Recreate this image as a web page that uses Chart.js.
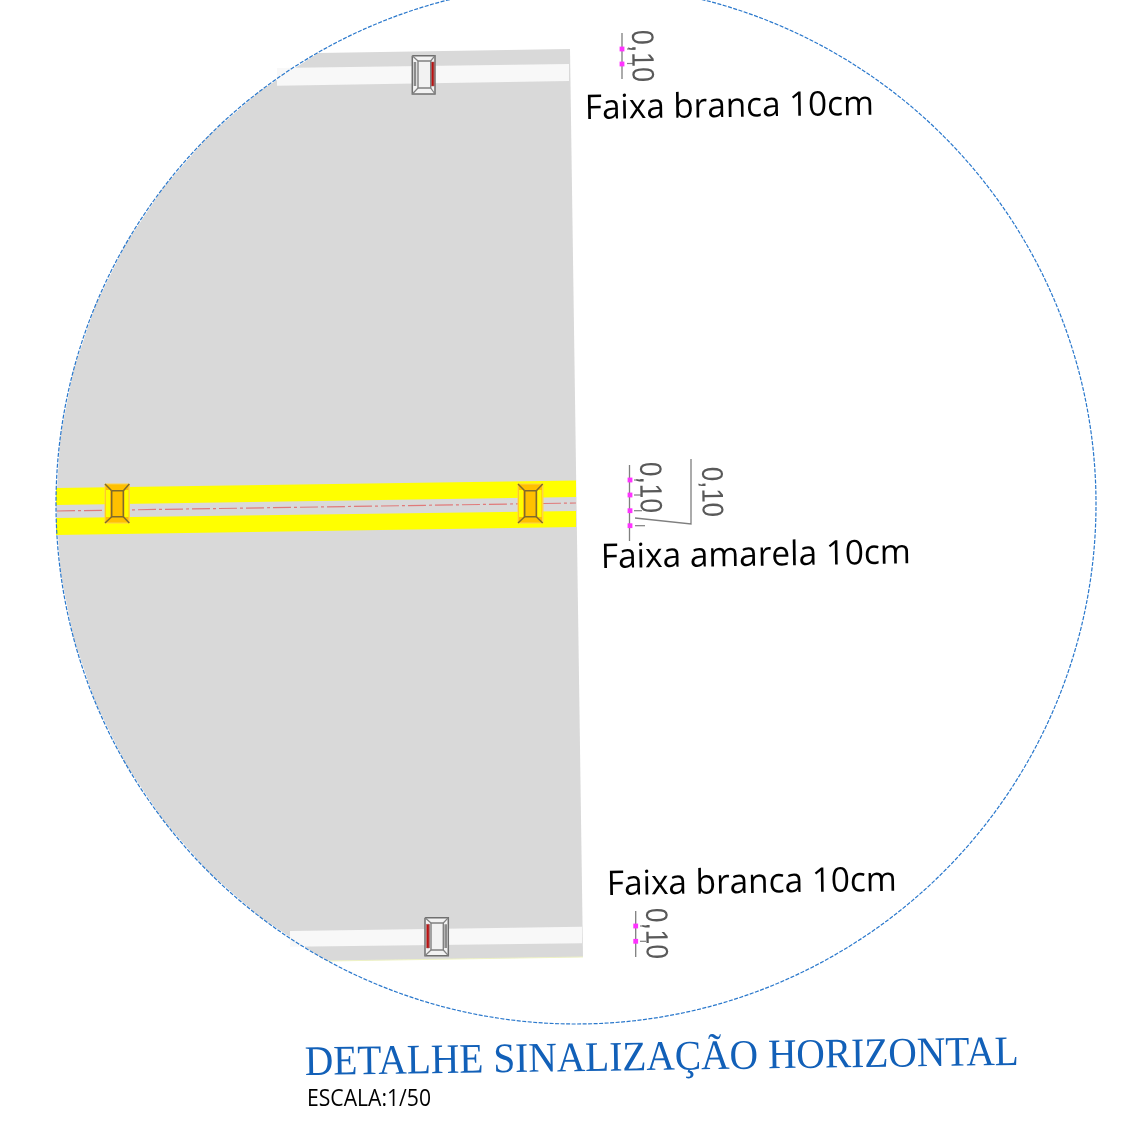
<!DOCTYPE html>
<html lang="pt-BR">
<head>
<meta charset="utf-8">
<title>Detalhe sinalização horizontal</title>
<script src="https://cdn.jsdelivr.net/npm/chart.js@4/dist/chart.umd.min.js"></script>
<style>
html,body{margin:0;padding:0;background:#fff}
canvas{display:block}
</style>
</head>
<body>
<canvas id="cDetalhe" width="1124" height="1145"></canvas>
<script>
// drawing units. y grows downwards
const circleEdge=[[576,-16],[710.6,1.7],[836,53.7],[943.7,136.3],[1026.3,244],[1078.3,369.4],[1096,504],[1078.3,638.6],[1026.3,764],[943.7,871.7],[836,954.3],[710.6,1006.3],[576,1024],[441.4,1006.3],[316,954.3],[208.3,871.7],[125.7,764],[73.7,638.6],[56,504],[73.7,369.4],[125.7,244],[208.3,136.3],[316,53.7],[441.4,1.7],[576,-16]];
const roadEdge=[[570,49],[583,957],[328,961],[316,954.3],[259.4,916.5],[208.3,871.7],[163.5,820.6],[125.7,764],[95.6,703],[73.7,638.6],[60.4,571.9],[56,504],[60.4,436.1],[73.7,369.4],[95.6,305],[125.7,244],[163.5,187.4],[208.3,136.3],[259.4,91.5],[318,53]];
const whiteTop=[[277,68],[569,64],[569,81],[277,85.7]];
const whiteBottom=[[290,931],[582,926.7],[582,943.3],[290,946.7]];
const yellowUpper=[[56,488],[576,480.5],[576,497],[56,505]];
const yellowLower=[[56,518],[576,511],[576,527],[56,535]];
const axisLine=[[57,511],[576,503]];
const roadBottomEdge=[[328,961],[583,957]];

// road studs: outer box, inner box, side bar boxes
const studAmber=[{outer:[105,484,129.3,523],inner:[111.7,490.7,123.3,516.7],left:[106,490,110,517],right:[124.5,490,128.5,517]},
  {outer:[518,484,542.7,523],inner:[524.7,490.7,536.3,516.7],left:[519,490,523,517],right:[537.5,490,541.5,517]}];
const studWhite=[{outer:[412.3,55.7,435,94],inner:[418,61,430.7,88],grey:[413.7,62,416.2,86],red:[431.2,62,434,86]},
  {outer:[425,917.7,448.3,955.7],inner:[431,923,443.3,950],grey:[444.4,924.3,447,948],red:[426.5,924.3,429.2,948]}];

// cotas
const cotaLines=[[[622,33],[622,79]],[[629.5,465],[629.5,541]],[[635.7,911],[635.7,957]],[[691,459],[691,524],[635,518]]];
const cotaTicks=[[[627,49],[635,49]],[[627,63.5],[634,63.5]],[[634,480],[642,480]],[[634,495],[642,495]],[[634,510.7],[642,510.7]],[[635,525.7],[645,525.7]],[[640,926],[646,926]],[[640,941.3],[646,941.3]]];
const pinkPoints=[[622,49],[622,64],[630,480],[630,495],[630,510.7],[630,525.7],[635.7,926],[635.7,941.3]];

const SANS='"Open Sans"',ARIAL='"Liberation Sans"',SERIF='"Liberation Serif"';
const labels=[
  {t:'Faixa branca 10cm',x:585,y:119,a:-0.85,w:289,f:`34px ${SANS}`,c:'#000'},
  {t:'Faixa amarela 10cm',x:601,y:568,a:-0.85,w:310,f:`34px ${SANS}`,c:'#000'},
  {t:'Faixa branca 10cm',x:607,y:895,a:-0.85,w:290,f:`34px ${SANS}`,c:'#000'},
  {t:'DETALHE SINALIZAÇÃO HORIZONTAL',x:305,y:1075,a:-0.82,w:714,f:`42px ${SERIF}`,c:'#1260b8'},
  {t:'ESCALA:1/50',x:307,y:1106,a:0,w:124,f:`24px ${SANS}`,c:'#000'},
  {t:'0,10',x:632,y:30,a:89.2,w:52,f:`31px ${ARIAL}`,c:'#595959'},
  {t:'0,10',x:640,y:462,a:89.2,w:51,f:`31px ${ARIAL}`,c:'#595959'},
  {t:'0,10',x:702,y:467,a:89.2,w:50,f:`30px ${ARIAL}`,c:'#595959'},
  {t:'0,10',x:646,y:908,a:89.2,w:51,f:`31px ${ARIAL}`,c:'#595959'}
];

const pts=a=>a.map(([x,y])=>({x,y}));
const box=([x0,y0,x1,y1])=>[[x0,y0],[x1,y0],[x1,y1],[x0,y1],[x0,y0]];
function area(a,color,line,w){
  return {data:pts(a),showLine:true,fill:'shape',backgroundColor:color,borderColor:line||color,borderWidth:line?(w||1):0,pointRadius:0,tension:0};
}
function stroke(a,color,w,dash){
  return {data:pts(a),showLine:true,fill:false,borderColor:color,borderWidth:w||1,borderDash:dash||[],pointRadius:0,tension:0};
}
// the bevels of one stud, from the corners of its boxes
function studBevels(s,color,w){
  const[a,b,c,d]=s.outer,[e,f,g,h]=s.inner;
  return [[[a,b],[e,f]],[[c,b],[g,f]],[[c,d],[g,h]],[[a,d],[e,h]]].map(l=>stroke(l,color,w));
}

// paint order, first one is at the back
const layers=[
  area(roadEdge,'#d9d9d9'),
  stroke(roadBottomEdge,'#eef2c4',1.2),
  area(whiteTop,'#f8f8f8'),
  area(whiteBottom,'#f8f8f8'),
  area(yellowUpper,'#ffff00'),
  area(yellowLower,'#ffff00'),
  stroke(axisLine,'#e07a7a',1.2,[18,3,3,3])
];
studAmber.forEach(s=>{
  layers.push(area(box(s.outer),'#ffc000','#ffd24a',1));
  layers.push(area(box(s.left),'#ffff00'));
  layers.push(area(box(s.right),'#ffff00'));
  layers.push(area(box(s.inner),'#ffc000','#7f6a2c',1.5));
  layers.push(...studBevels(s,'#7f6a2c',1.5));
});
studWhite.forEach(s=>{
  layers.push(area(box(s.outer),'#f2f2f2','#6f6f6f',1.5));
  layers.push(area(box(s.grey),'#8c8c8c'));
  layers.push(area(box(s.red),'#c01010','#9c5a5a',0.5));
  layers.push(area(box(s.inner),'#f2f2f2','#808080',1.4));
  layers.push(...studBevels(s,'#808080',1.2));
});
cotaLines.forEach(l=>layers.push(stroke(l,'#7f7f7f',1.3)));
cotaTicks.forEach(l=>layers.push(stroke(l,'#7f7f7f',1.2)));
layers.push({data:pts(pinkPoints),showLine:false,pointStyle:'rect',pointRadius:3.4,pointBackgroundColor:'#ff33ff',pointBorderWidth:0});
layers.push({data:pts(circleEdge),showLine:true,fill:false,borderColor:'#2a78cc',borderWidth:1.2,borderDash:[4,1.5],pointRadius:0,tension:0.338,capBezierPoints:false});

const labelPlugin={
  id:'labelPlugin',
  afterDatasetsDraw(chart){
    const{ctx,scales:{x,y}}=chart;
    labels.forEach(l=>{
      ctx.save();
      ctx.translate(x.getPixelForValue(l.x),y.getPixelForValue(l.y));
      ctx.rotate(l.a*Math.PI/180);
      ctx.font=l.f;
      ctx.fillStyle=l.c;
      ctx.textBaseline='alphabetic';
      ctx.scale(l.w/ctx.measureText(l.t).width,1);
      ctx.fillText(l.t,0,0);
      ctx.restore();
    });
  }
};

new Chart(document.getElementById('cDetalhe'),{
  type:'scatter',
  // chart.js paints the first dataset last
  data:{datasets:layers.slice().reverse()},
  options:{
    responsive:false,animation:false,
    layout:{padding:0,autoPadding:false},
    plugins:{legend:{display:false},tooltip:{enabled:false},title:{display:false}},
    scales:{
      x:{type:'linear',min:0,max:1124,display:false},
      y:{type:'linear',min:0,max:1145,reverse:true,display:false}
    }
  },
  plugins:[labelPlugin]
});
</script>
</body>
</html>
